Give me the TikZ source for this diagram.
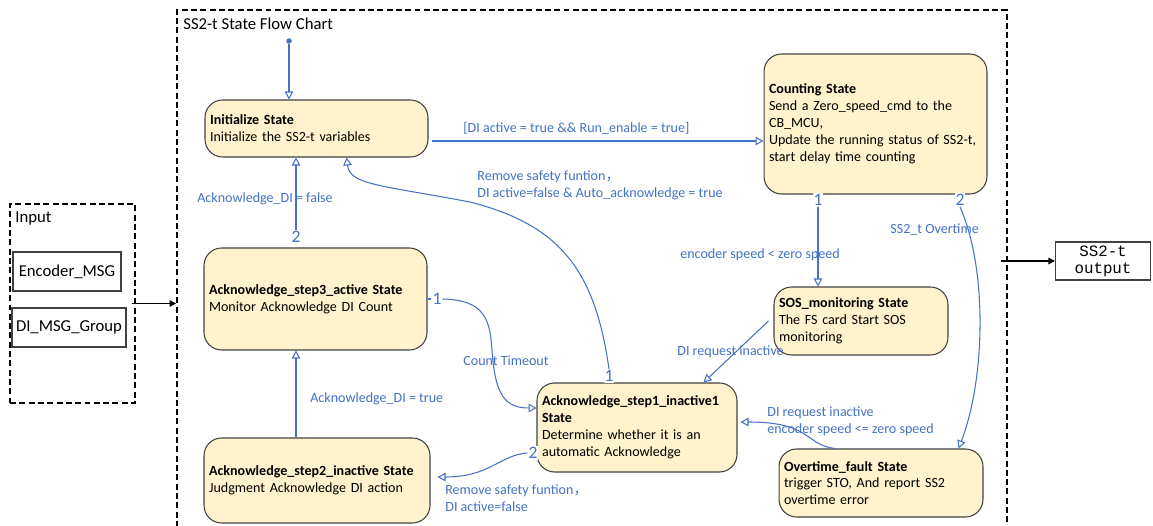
\documentclass[tikz,border=0pt]{standalone}
\usepackage{fontspec}
\setmainfont{Carlito}
\setmonofont{Liberation Mono}
\newfontfamily\cjkfont{Noto Sans CJK SC}
\usepackage{tikz}
\usetikzlibrary{arrows.meta,positioning,calc}
\usepackage{xcolor}
\definecolor{flowblue}{RGB}{68,114,196}
\definecolor{statefill}{RGB}{255,242,204}
\definecolor{stateline}{RGB}{64,64,64}

\begin{document}
\begin{tikzpicture}[x=0.02cm, y=-0.02cm,
    state/.style={rectangle, rounded corners=10pt, draw=stateline, fill=statefill, line width=0.6pt,
                  align=left, inner xsep=0.1cm, inner ysep=0pt, font=\fontsize{8}{9.6}\selectfont},
    flow/.style={draw=flowblue, line width=0.6pt, -{Triangle[open, length=1.6mm, width=1.7mm]}},
    flowline/.style={draw=flowblue, line width=0.6pt},
    cond/.style={font=\fontsize{8}{9.6}\selectfont, text=flowblue, align=left, inner sep=0pt, anchor=west},
    port/.style={font=\fontsize{10}{10}\selectfont, text=flowblue, fill=white, inner sep=0.5pt},
    startdot/.style={circle, fill=flowblue, inner sep=0pt, minimum size=0.11cm},
    frame/.style={draw, line width=1.1pt, dash pattern=on 3.4pt off 1.9pt, inner sep=0pt},
    msgbox/.style={draw=black!75, line width=0.6pt, inner sep=0pt, font=\fontsize{9.5}{11}\selectfont},
    outbox/.style={msgbox, align=center, font=\fontsize{9}{9.6}\selectfont\ttfamily},
    io/.style={line width=0.6pt, -{Triangle[length=1.3mm, width=1.3mm]}}
]
    \useasboundingbox (0,0) rectangle (1153,526);

    % frames
    \node[frame, minimum width=16.6cm, minimum height=10.6cm] (chart) at (592,275) {};
    \node[anchor=west, inner sep=0pt, font=\fontsize{9.5}{11}\selectfont] (title) at (183,24) {SS2-t State Flow Chart};
    \node[frame, minimum width=2.5cm, minimum height=3.98cm] (inputgrp) at (72.5,303.5) {};
    \node[anchor=west, inner sep=0pt, font=\fontsize{9.5}{11}\selectfont] (inputlbl) at (15,218) {Input};
    \node[msgbox, minimum width=2.16cm, minimum height=0.78cm] (encmsg) at (67,271.5) {Encoder\_MSG};
    \node[msgbox, minimum width=2.28cm, minimum height=0.78cm] (dimsg) at (69,327.5) {DI\_MSG\_Group};
    \node[outbox, minimum width=1.9cm, minimum height=0.76cm] (ss2out) at (1103,261) {SS2-t\\output};

    % states
    \node[state, text width=4.26cm, minimum height=1.14cm] (init) at (316.5,128.5)
        {\textbf{Initialize State}\\Initialize the SS2-t variables};
    \node[state, text width=4.26cm, minimum height=2.8cm] (count) at (875.5,124)
        {\textbf{Counting State}\\Send a Zero\_speed\_cmd to the\\CB\_MCU,\\Update the running status of SS2-t,\\start delay time counting};
    \node[state, text width=4.26cm, minimum height=2.04cm] (ackthree) at (315.5,299)
        {\textbf{Acknowledge\_step3\_active State}\\Monitor Acknowledge DI Count};
    \node[state, text width=3.28cm, minimum height=1.36cm] (sos) at (861,321)
        {\textbf{SOS\_monitoring State}\\The FS card Start SOS\\monitoring};
    \node[state, text width=3.8cm, minimum height=1.78cm] (ackone) at (637,427.5)
        {\textbf{Acknowledge\_step1\_inactive1}\\\textbf{State}\\Determine whether it is an\\automatic Acknowledge};
    \node[state, text width=4.32cm, minimum height=1.7cm] (acktwo) at (317,480.5)
        {\textbf{Acknowledge\_step2\_inactive State}\\Judgment Acknowledge DI action};
    \node[state, text width=3.88cm, minimum height=1.36cm] (ovt) at (881,483)
        {\textbf{Overtime\_fault State}\\trigger STO, And report SS2\\overtime error};

    % ports
    \node[port] (cnt1) at (818,200) {1};
    \node[port] (cnt2) at (960,200) {2};
    \node[port] (ak3top) at (296,237) {2};
    \node[port] (ak3right) at (437,299) {1};
    \node[port] (ak1top) at (609,376) {1};
    \node[port] (ak1left) at (533,453) {2};
    \node[startdot] (init0) at (289,41) {};

    % input / output
    \draw[io] ([xshift=-0.08cm]inputgrp.east) -- (inputgrp.east -| chart.west);
    \draw[io] ($(chart.east |- ss2out.west)+(-7,0)$) -- (ss2out.west);

    % transitions
    \draw[flow] (init0) -- (init0 |- init.north);
    \draw[flow] ($(init.east)+(3,12.5)$) -- ($(init.east -| count.west)+(0,12.5)$);
    \node[cond] (c1) at (463,128) {[DI active = true \&\& Run\_enable = true]};

    \draw[flow] (cnt1) -- (cnt1 |- sos.north);
    \node[cond] (c2) at (680,255) {encoder speed < zero speed};

    \draw[flow] (cnt2.south) .. controls (988,270) and (985,380) .. ($(ovt.north east)+(-25,0)$);
    \node[cond] (c3) at (890,230) {SS2\_t Overtime};

    \draw[flow] ([xshift=-0.1cm]sos.west) -- ($(ackone.north east)+(-34,0)$);
    \node[cond] (c4) at (677,352) {DI request inactive};

    \draw[flow] ($(ovt.north west)+(56,0)$) .. controls (805,445) and (812,422) .. ($(ackone.east)+(3,-5.5)$);
    \node[cond] (c5) at (767,421) {DI request inactive\\encoder speed <= zero speed};

    \draw[flow] (ak1top.north) .. controls (595,270) and (560,225) .. (470,202)
        .. controls (380,185) and (350,185) .. ($(init.south west)+(142,0)$);
    \node[cond] (c6) at (477,185) {Remove safety funtion{\cjkfont ，}\\DI active=false \& Auto\_acknowledge = true};

    \draw[flowline] (ackthree.east) -- (ak3right.west);
    \draw[flow] (ak3right.east) .. controls (485,300) and (490,320) .. (492,350)
        .. controls (495,395) and (505,408) .. ($(ackone.west)+(0,-19.5)$);
    \node[cond] (c7) at (463,361) {Count Timeout};

    \draw[flow] (ak1left.west) .. controls (500,455) and (490,477) .. ($(acktwo.east)+(7,-3.5)$);
    \node[cond] (c8) at (445,498) {Remove safety funtion{\cjkfont ，}\\DI active=false};

    \draw[flow] (acktwo.north -| ak3top) -- (ackthree.south -| ak3top);
    \node[cond] (c9) at (310,399) {Acknowledge\_DI = true};

    \draw[flow] (ak3top.north) -- (ak3top |- init.south);
    \node[cond] (c10) at (197,199) {Acknowledge\_DI = false};
\end{tikzpicture}
\end{document}
